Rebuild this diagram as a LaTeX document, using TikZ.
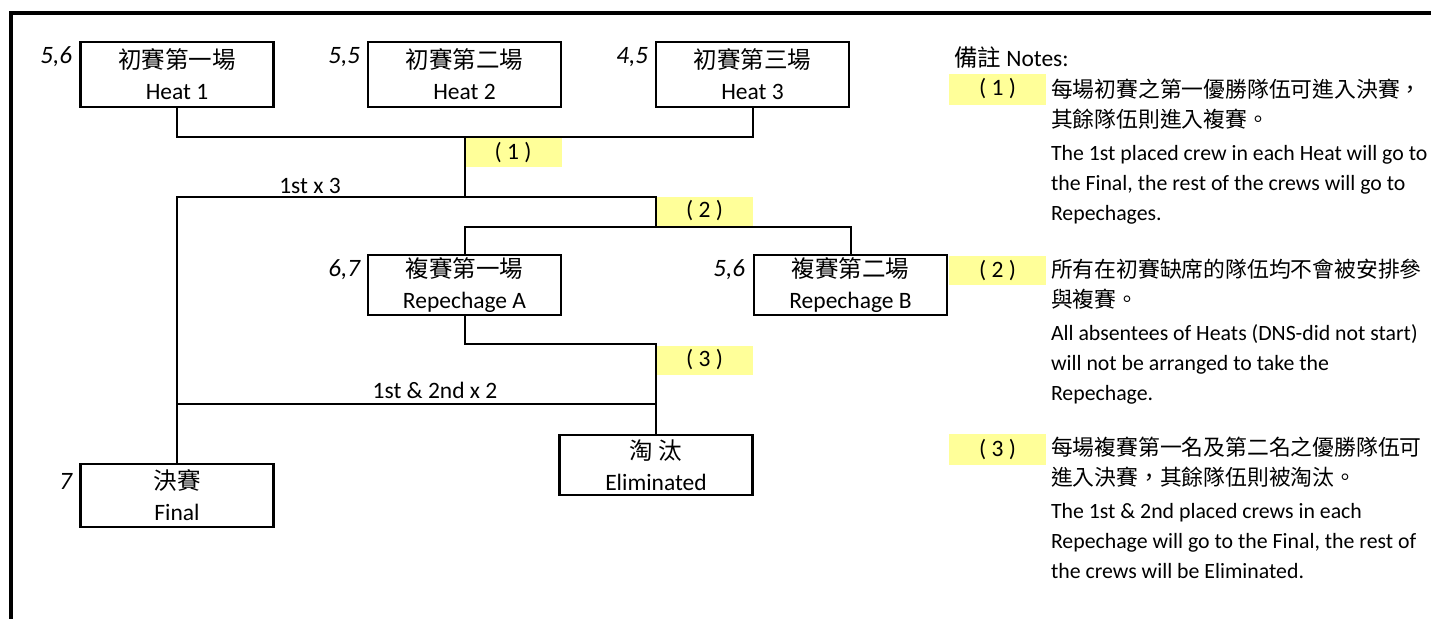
\documentclass[tikz,border=0pt]{standalone}
\usepackage{fontspec}
\setmainfont{Carlito}
\newfontfamily\cjk[Script=CJK,Language=Chinese Traditional]{Noto Sans CJK TC}
\definecolor{tagyellow}{RGB}{255,255,153}
\newcommand{\zh}[1]{{\cjk #1}}

\begin{document}
\begin{tikzpicture}[x=1pt,y=-1pt,font=\fontsize{23.5}{31}\selectfont,line width=2pt]
  \tikzstyle{every node}=[inner sep=0pt]
  \tikzstyle{racebox}=[draw,line width=2.2pt,minimum width=193,minimum height=62,align=center]
  \tikzstyle{seed}=[anchor=east,font=\fontsize{25}{31}\selectfont\itshape]
  \tikzstyle{tag}=[fill=tagyellow,minimum width=97,minimum height=29]
  \tikzstyle{note}=[anchor=north west,align=left,font=\fontsize{21.8}{30}\selectfont]
  \useasboundingbox (0,0) rectangle (1431,619);
  \draw[line width=4pt] (1431,13) -- (11,13) -- (11,619);

  \node[racebox,minimum height=65] (heat1) at (177,74.5) {\zh{初賽第一場}\\Heat 1};
  \node[racebox,minimum height=65] (heat2) at (464.5,74.5) {\zh{初賽第二場}\\Heat 2};
  \node[racebox,minimum height=65] (heat3) at (752.5,74.5) {\zh{初賽第三場}\\Heat 3};
  \node[racebox,minimum height=60] (repA) at (464.5,285) {\zh{複賽第一場}\\Repechage A};
  \node[racebox,minimum height=60] (repB) at (850.5,285) {\zh{複賽第二場}\\Repechage B};
  \node[racebox,minimum height=63] (final) at (177,495.5) {\zh{決賽}\\Final};
  \node[racebox,minimum height=60] (elim) at (656,465) {\zh{淘 汰}\\Eliminated};

  \node[seed] (seed1) at (73,57) {5,6};
  \node[seed] (seed2) at (361,57) {5,5};
  \node[seed] (seed3) at (649,57) {4,5};
  \node[seed] (seedA) at (361,270) {6,7};
  \node[seed] (seedB) at (746,270) {5,6};
  \node[seed] (seedF) at (73,481) {7};

  \node[tag] (tag1) at (513,152.5) {( 1 )};
  \node[tag] (tag2) at (704.5,211) {( 2 )};
  \node[tag] (tag3) at (704.5,360) {( 3 )};

  \coordinate (j1) at (465,137);
  \coordinate (j2) at (465,197);
  \coordinate (j3) at (656,197);
  \coordinate (j4) at (656,227);
  \coordinate (j5) at (656,344);
  \coordinate (j6) at (656,404);
  \draw (heat1.south) |- (j1) -| (heat3.south);
  \draw (j1) -- (j2);
  \draw (final.north) |- (j3) -- (j4);
  \draw (repA.north) |- (j4) -| (repB.north);
  \draw (repA.south) |- (j5) -| (elim.north);
  \draw (j6) -- (j6 -| final.north);

  \node (lab1) at (310,186) {1st x 3};
  \node (lab2) at (435,390) {1st \& 2nd x 2};

  \node[anchor=west] (notes) at (953,58) {\zh{備註} Notes:};
  \node[tag,minimum height=31] (note1) at (997.5,89) {( 1 )};
  \node[tag] (note2) at (997.5,270.5) {( 2 )};
  \node[tag,minimum height=31] (note3) at (997.5,449.5) {( 3 )};
  \node[note] (text1) at (1050,78) {\zh{每場初賽之第一優勝隊伍可進入決賽，}\\\zh{其餘隊伍則進入複賽。}\\[3pt]
    The 1st placed crew in each Heat will go to\\the Final, the rest of the crews will go to\\Repechages.};
  \node[note] (text2) at (1050,258) {\zh{所有在初賽缺席的隊伍均不會被安排參}\\\zh{與複賽。}\\[3pt]
    All absentees of Heats (DNS-did not start)\\will not be arranged to take the\\Repechage.};
  \node[note] (text3) at (1050,436) {\zh{每場複賽第一名及第二名之優勝隊伍可}\\\zh{進入決賽，其餘隊伍則被淘汰。}\\[3pt]
    The 1st \& 2nd placed crews in each\\Repechage will go to the Final, the rest of\\the crews will be Eliminated.};
\end{tikzpicture}
\end{document}
